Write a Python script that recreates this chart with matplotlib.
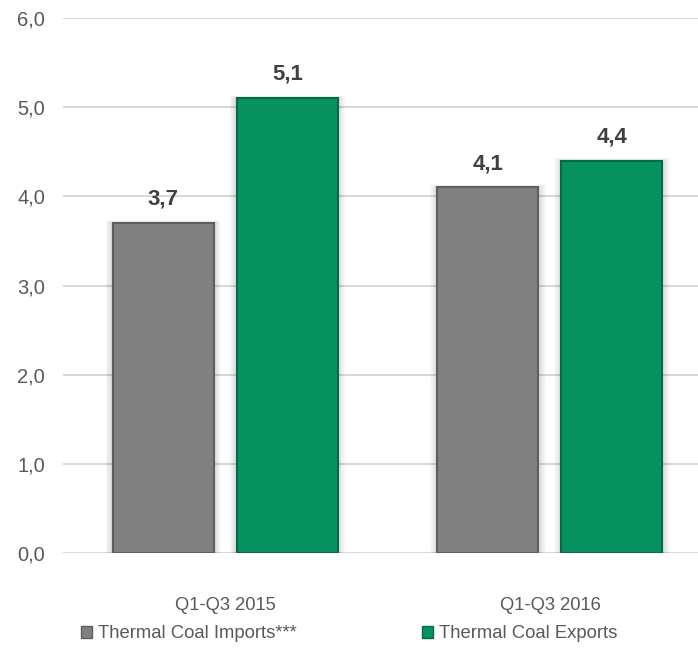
import matplotlib.pyplot as plt
import numpy as np
from matplotlib.patches import Patch

plt.rcParams['font.family'] = ['Liberation Sans', 'DejaVu Sans']

periods = ['Q1-Q3 2015', 'Q1-Q3 2016']
imports = [3.7, 4.1]
exports = [5.1, 4.4]
labels_imp = ['3,7', '4,1']
labels_exp = ['5,1', '4,4']
yticks = [0, 1, 2, 3, 4, 5, 6]
ytick_labels = ['0,0', '1,0', '2,0', '3,0', '4,0', '5,0', '6,0']

gray = '#808080'
gray_edge = '#5f5f5f'
green = '#079161'
green_edge = '#056b47'
text_col = '#595959'

fig = plt.figure(figsize=(6.98, 6.71), dpi=100)
ax = fig.add_axes([63 / 698, 118 / 671, 635 / 698, 535 / 671])

x = np.arange(len(periods))
w = 0.311
off = 0.191

# faint shadow around the bars
for dx, vals in ((-off, imports), (off, exports)):
    for s in np.linspace(0.004, 0.03, 8):
        ax.bar(x + dx, np.array(vals) + s, width=w + s * 1.5, bottom=0,
               color='black', alpha=0.018, linewidth=0, zorder=2)

b1 = ax.bar(x - off, imports, width=w, color=gray, edgecolor=gray_edge,
            linewidth=1.5, zorder=3)
b2 = ax.bar(x + off, exports, width=w, color=green, edgecolor=green_edge,
            linewidth=1.5, zorder=3)

for bars, labs in ((b1, labels_imp), (b2, labels_exp)):
    for r, lab in zip(bars, labs):
        ax.text(r.get_x() + r.get_width() / 2, r.get_height() + 0.15, lab,
                ha='center', va='bottom', fontsize=16, fontweight='bold',
                color='#404040')

ax.set_xlim(-0.5, 1.456)
ax.set_ylim(0, 6)
ax.set_yticks(yticks)
ax.set_yticklabels(ytick_labels)
ax.set_xticks(x)
ax.set_xticklabels(periods)
ax.yaxis.grid(True, color='#d9d9d9', linewidth=1.5, zorder=0)
ax.set_axisbelow(True)
for sp in ax.spines.values():
    sp.set_visible(False)
ax.tick_params(axis='both', length=0, colors=text_col)
ax.tick_params(axis='y', pad=13, labelsize=14.5)
ax.tick_params(axis='x', pad=32, labelsize=13.2)

handles = [Patch(facecolor=gray, edgecolor=gray_edge, label='Thermal Coal Imports***'),
           Patch(facecolor=green, edgecolor=green_edge, label='Thermal Coal Exports')]
leg = fig.legend(handles=handles, loc='center left', bbox_to_anchor=(74 / 698, 1 - 634 / 671),
                 ncol=2, frameon=False, fontsize=13.3, handlelength=0.6, handleheight=0.6,
                 handletextpad=0.3, columnspacing=6.8, borderaxespad=0)
for t in leg.get_texts():
    t.set_color(text_col)

fig.savefig('out.png', dpi=100)
